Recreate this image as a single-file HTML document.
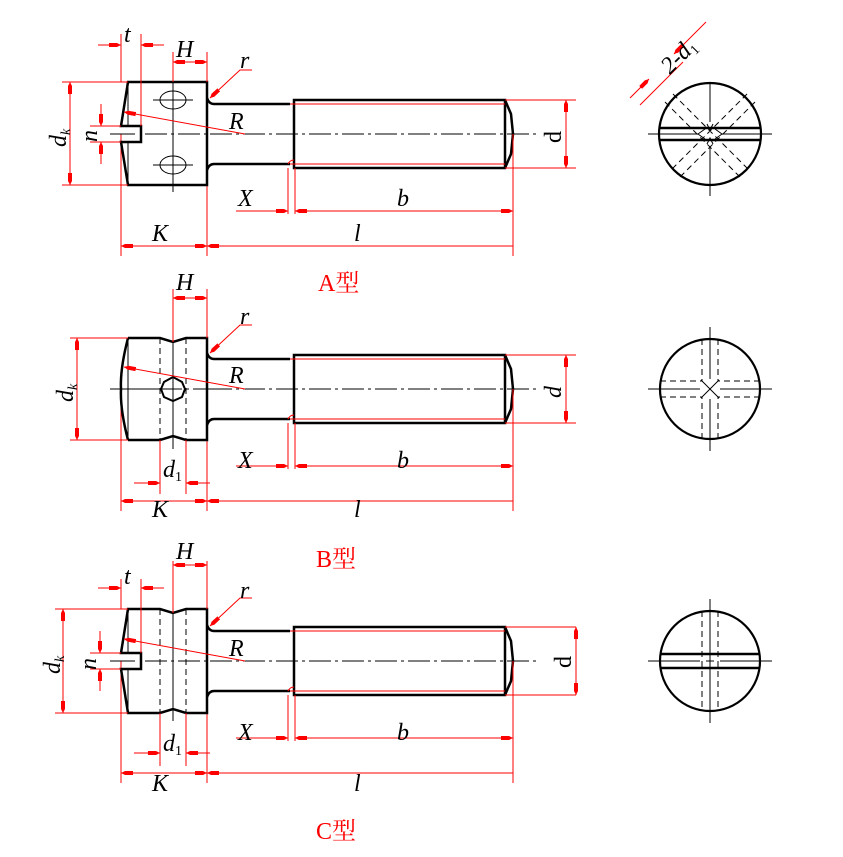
<!DOCTYPE html>
<html><head><meta charset="utf-8"><style>
html,body{margin:0;padding:0;background:#fff}
svg{display:block}
.k{stroke:#000;stroke-width:2.5;fill:none}
.t{stroke:#000;stroke-width:1;fill:none}
.cl{stroke:#000;stroke-width:1;fill:none;stroke-dasharray:22,4,3,4}
.dh{stroke:#000;stroke-width:1;fill:none;stroke-dasharray:6,4}
.r{stroke:#f00;stroke-width:1;fill:none}
.it{font-family:"Liberation Serif",serif;font-style:italic;font-size:24px;fill:#000}
.lab{font-family:"Liberation Serif","Noto Serif CJK SC",serif;font-size:24px;fill:#f00}
</style></head><body>
<svg width="843" height="857" viewBox="0 0 843 857" xmlns="http://www.w3.org/2000/svg">
<defs>
<marker id="a" viewBox="0 0 12 6" refX="12" refY="3" markerWidth="12" markerHeight="6" markerUnits="userSpaceOnUse" orient="auto-start-reverse">
<path d="M0,1 L8,1 L12,3 L8,5 L0,5z" fill="#f00"/></marker>
<g id="shaft">
<path class="k" d="M207,-36 Q209,-30 214,-30 L290,-30 M207,36 Q209,30 214,30 L290,30"/>
<rect class="k" x="294" y="-34" width="211" height="68"/>
<path class="k" d="M505,-34 L511,-20 L513,0 L511,20 L505,34"/>
<path class="r" d="M290,-30 L505,-30 M290,30 L505,30 M288,30 Q290,26 294,26"/>
<path class="cl" d="M210,0 L540,0"/>
<path class="r" d="M505,-34 L576,-34 M505,34 L576,34"/>
</g>
<g id="hdims">
<path class="r" d="M121,0 V122 M207,0 V122 M513,0 V122 M288,34 V80 M295,34 V80"/>
<path class="r" d="M236,77 H288" marker-end="url(#a)"/>
<path class="r" d="M295,77 H513" marker-start="url(#a)" marker-end="url(#a)"/>
<path class="r" d="M121,112 H207" marker-start="url(#a)" marker-end="url(#a)"/>
<path class="r" d="M207,112 H513" marker-start="url(#a)"/>
</g>
</defs>

<!-- ========== A ========== -->
<g transform="translate(0,134)">
<use href="#shaft"/>
<use href="#hdims"/>
<path class="k" d="M141,-52 H207 V51 H128 L121,8 H141 V-8 H121 L128,-52 H141"/>
<path class="t" d="M128,-52 V-8 M128,8 V51 M110,0 H135"/>
<path class="cl" d="M145,0 H210"/>
<ellipse class="t" cx="173" cy="-34" rx="13" ry="9"/>
<ellipse class="t" cx="173" cy="31" rx="13" ry="9"/>
<path class="t" d="M153,-34 H193 M153,31 H193 M173,-65 V58"/>
<path class="r" d="M62,-52 H128 M62,51 H128"/>
<path class="r" d="M70,-52 V51" marker-start="url(#a)" marker-end="url(#a)"/>
<path class="r" d="M90,-8 H121 M90,8 H121"/>
<path class="r" d="M101,-30 V-8" marker-end="url(#a)"/>
<path class="r" d="M101,30 V8" marker-end="url(#a)"/>
<path class="r" d="M121,-52 V-100 M141,-8 V-100 M173,-52 V-82 M207,-52 V-82"/>
<path class="r" d="M98,-89 H121" marker-end="url(#a)"/>
<path class="r" d="M164,-89 H141" marker-end="url(#a)"/>
<path class="r" d="M173,-72 H207" marker-start="url(#a)" marker-end="url(#a)"/>
<path class="r" d="M245,0 L124,-22" marker-end="url(#a)"/>
<path class="r" d="M252,-64 H240 L210,-36" marker-end="url(#a)"/>
<path class="r" d="M566,-34 V34" marker-start="url(#a)" marker-end="url(#a)"/>
<path class="r" d="M513,20 V40"/>
</g>
<text class="it" x="124" y="42">t</text>
<text class="it" x="176" y="57">H</text>
<text class="it" x="240" y="68">r</text>
<text class="it" x="229" y="129">R</text>
<text class="it" x="238" y="206">X</text>
<text class="it" x="397" y="206">b</text>
<text class="it" x="152" y="241">K</text>
<text class="it" x="354" y="241">l</text>
<text class="it" transform="translate(66,147) rotate(-90)">d<tspan font-size="14" dy="4">k</tspan></text>
<text class="it" transform="translate(97,142) rotate(-90)">n</text>
<text class="it" style="font-style:normal" transform="translate(561,143) rotate(-90)">d</text>
<text class="lab" x="318" y="291">A型</text>

<!-- ========== B ========== -->
<g transform="translate(0,389)">
<use href="#shaft"/>
<use href="#hdims"/>
<path class="k" d="M128,-51 H160 L173,-47 L186,-51 H207 V51 H186 L173,47 L160,51 H128"/>
<path class="k" d="M128,-51 Q120,-20 121,0 Q120,20 128,51"/>
<path class="t" d="M128,-51 V51 M110,0 H160 M173,-55 V60"/>
<path class="cl" d="M160,0 H210"/>
<path class="dh" d="M160,-51 V51 M186,-51 V51"/>
<polygon class="k" style="stroke-width:2" points="173,-12 182,-7 185,0 182,8 173,12 164,8 161,0 164,-7"/>
<path class="r" d="M70,-51 H128 M70,51 H128"/>
<path class="r" d="M77,-51 V51" marker-start="url(#a)" marker-end="url(#a)"/>
<path class="r" d="M173,-47 V-100 M207,-51 V-100 M160,51 V105 M186,51 V105"/>
<path class="r" d="M173,-91 H207" marker-start="url(#a)" marker-end="url(#a)"/>
<path class="r" d="M134,94 H160" marker-end="url(#a)"/>
<path class="r" d="M210,94 H186" marker-end="url(#a)"/>
<path class="r" d="M245,0 L124,-22" marker-end="url(#a)"/>
<path class="r" d="M252,-64 H240 L210,-36" marker-end="url(#a)"/>
<path class="r" d="M566,-34 V34" marker-start="url(#a)" marker-end="url(#a)"/>
</g>
<text class="it" x="176" y="290">H</text>
<text class="it" x="240" y="324">r</text>
<text class="it" x="229" y="383">R</text>
<text class="it" x="163" y="477">d<tspan font-size="14" dy="4" font-style="normal">1</tspan></text>
<text class="it" x="238" y="468">X</text>
<text class="it" x="397" y="468">b</text>
<text class="it" x="152" y="517">K</text>
<text class="it" x="354" y="517">l</text>
<text class="it" transform="translate(73,402) rotate(-90)">d<tspan font-size="14" dy="4">k</tspan></text>
<text class="it" transform="translate(561,398) rotate(-90)">d</text>
<text class="lab" x="316" y="567">B型</text>

<!-- ========== C ========== -->
<g transform="translate(0,661)">
<use href="#shaft"/>
<use href="#hdims"/>
<path class="k" d="M141,-52 H160 L173,-48 L186,-52 H207 V52 H186 L173,48 L160,52 H128 L121,8 H141 V-8 H121 L128,-52 H141"/>
<path class="t" d="M128,-52 V-8 M128,8 V52 M110,0 H135 M173,-58 V60"/>
<path class="cl" d="M145,0 H210"/>
<path class="dh" d="M160,-52 V52 M186,-52 V52"/>
<path class="r" d="M55,-52 H128 M55,52 H128"/>
<path class="r" d="M63,-52 V52" marker-start="url(#a)" marker-end="url(#a)"/>
<path class="r" d="M90,-8 H121 M90,8 H121"/>
<path class="r" d="M100,-30 V-8" marker-end="url(#a)"/>
<path class="r" d="M100,30 V8" marker-end="url(#a)"/>
<path class="r" d="M121,-52 V-82 M141,-8 V-82 M173,-48 V-100 M207,-52 V-100"/>
<path class="r" d="M98,-73 H121" marker-end="url(#a)"/>
<path class="r" d="M164,-73 H141" marker-end="url(#a)"/>
<path class="r" d="M173,-96 H207" marker-start="url(#a)" marker-end="url(#a)"/>
<path class="r" d="M160,52 V105 M186,52 V105"/>
<path class="r" d="M134,92 H160" marker-end="url(#a)"/>
<path class="r" d="M210,92 H186" marker-end="url(#a)"/>
<path class="r" d="M245,0 L124,-22" marker-end="url(#a)"/>
<path class="r" d="M252,-63 H240 L210,-35" marker-end="url(#a)"/>
<path class="r" d="M576,-34 V34" marker-start="url(#a)" marker-end="url(#a)"/>
</g>
<text class="it" x="124" y="584">t</text>
<text class="it" x="176" y="559">H</text>
<text class="it" x="240" y="598">r</text>
<text class="it" x="229" y="656">R</text>
<text class="it" x="163" y="751">d<tspan font-size="14" dy="4" font-style="normal">1</tspan></text>
<text class="it" x="238" y="740">X</text>
<text class="it" x="397" y="740">b</text>
<text class="it" x="152" y="791">K</text>
<text class="it" x="354" y="791">l</text>
<text class="it" transform="translate(60,674) rotate(-90)">d<tspan font-size="14" dy="4">k</tspan></text>
<text class="it" transform="translate(96,670) rotate(-90)">n</text>
<text class="it" style="font-style:normal" transform="translate(571,668) rotate(-90)">d</text>
<text class="lab" x="316" y="839">C型</text>

<!-- ========== Right views ========== -->
<g transform="translate(710,134)">
<circle cx="0" cy="0" r="51" style="stroke:#000;stroke-width:2.2;fill:none"/>
<path class="k" d="M-51,-6 H51 M-51,6 H51"/>
<path class="t" d="M-62,0 H-12 M12,0 H62 M0,-52 V-12 M0,12 V62 M-12,0 L-5,-5 M-12,0 L-5,5 M12,0 L5,-5 M12,0 L5,5 M-3,-10 L0,-4 L3,-10 M-3,10 L0,4 L3,10"/>
<path class="dh" d="M-37,-40 L40,37 M-45,-32 L32,45 M37,-40 L-40,37 M45,-32 L-32,45"/>
<path class="r" d="M-40,-59 L-70,-29 M-27,-72 L-57,-42"/>
<path class="r" d="M-80,-36 L-61,-55" marker-end="url(#a)"/>
<path class="r" d="M-4,-112 L-36,-80" marker-end="url(#a)"/>
</g>
<text class="it" transform="translate(670,75) rotate(-45)">2-d<tspan font-size="14" dy="4" font-style="normal">1</tspan></text>

<g transform="translate(710,389)">
<circle cx="0" cy="0" r="50" style="stroke:#000;stroke-width:2.2;fill:none"/>
<path class="t" d="M-62,0 H-10 M10,0 H62 M0,-62 V-10 M0,10 V62 M-9,-9 L9,9 M-9,9 L9,-9"/>
<path class="dh" d="M-8,-50 V-8 M8,-50 V-8 M-8,50 V8 M8,50 V8 M-50,-8 H-8 M50,-8 H8 M-50,8 H-8 M50,8 H8"/>
</g>

<g transform="translate(710,661)">
<circle cx="0" cy="0" r="50" style="stroke:#000;stroke-width:2.2;fill:none"/>
<path class="k" d="M-50,-7 H50 M-50,7 H50"/>
<path class="t" d="M-62,0 H-10 M10,0 H62 M0,-62 V62 M-4,0 H4"/>
<path class="dh" d="M-8,-50 V50 M8,-50 V50"/>
</g>
</svg>
</body></html>
